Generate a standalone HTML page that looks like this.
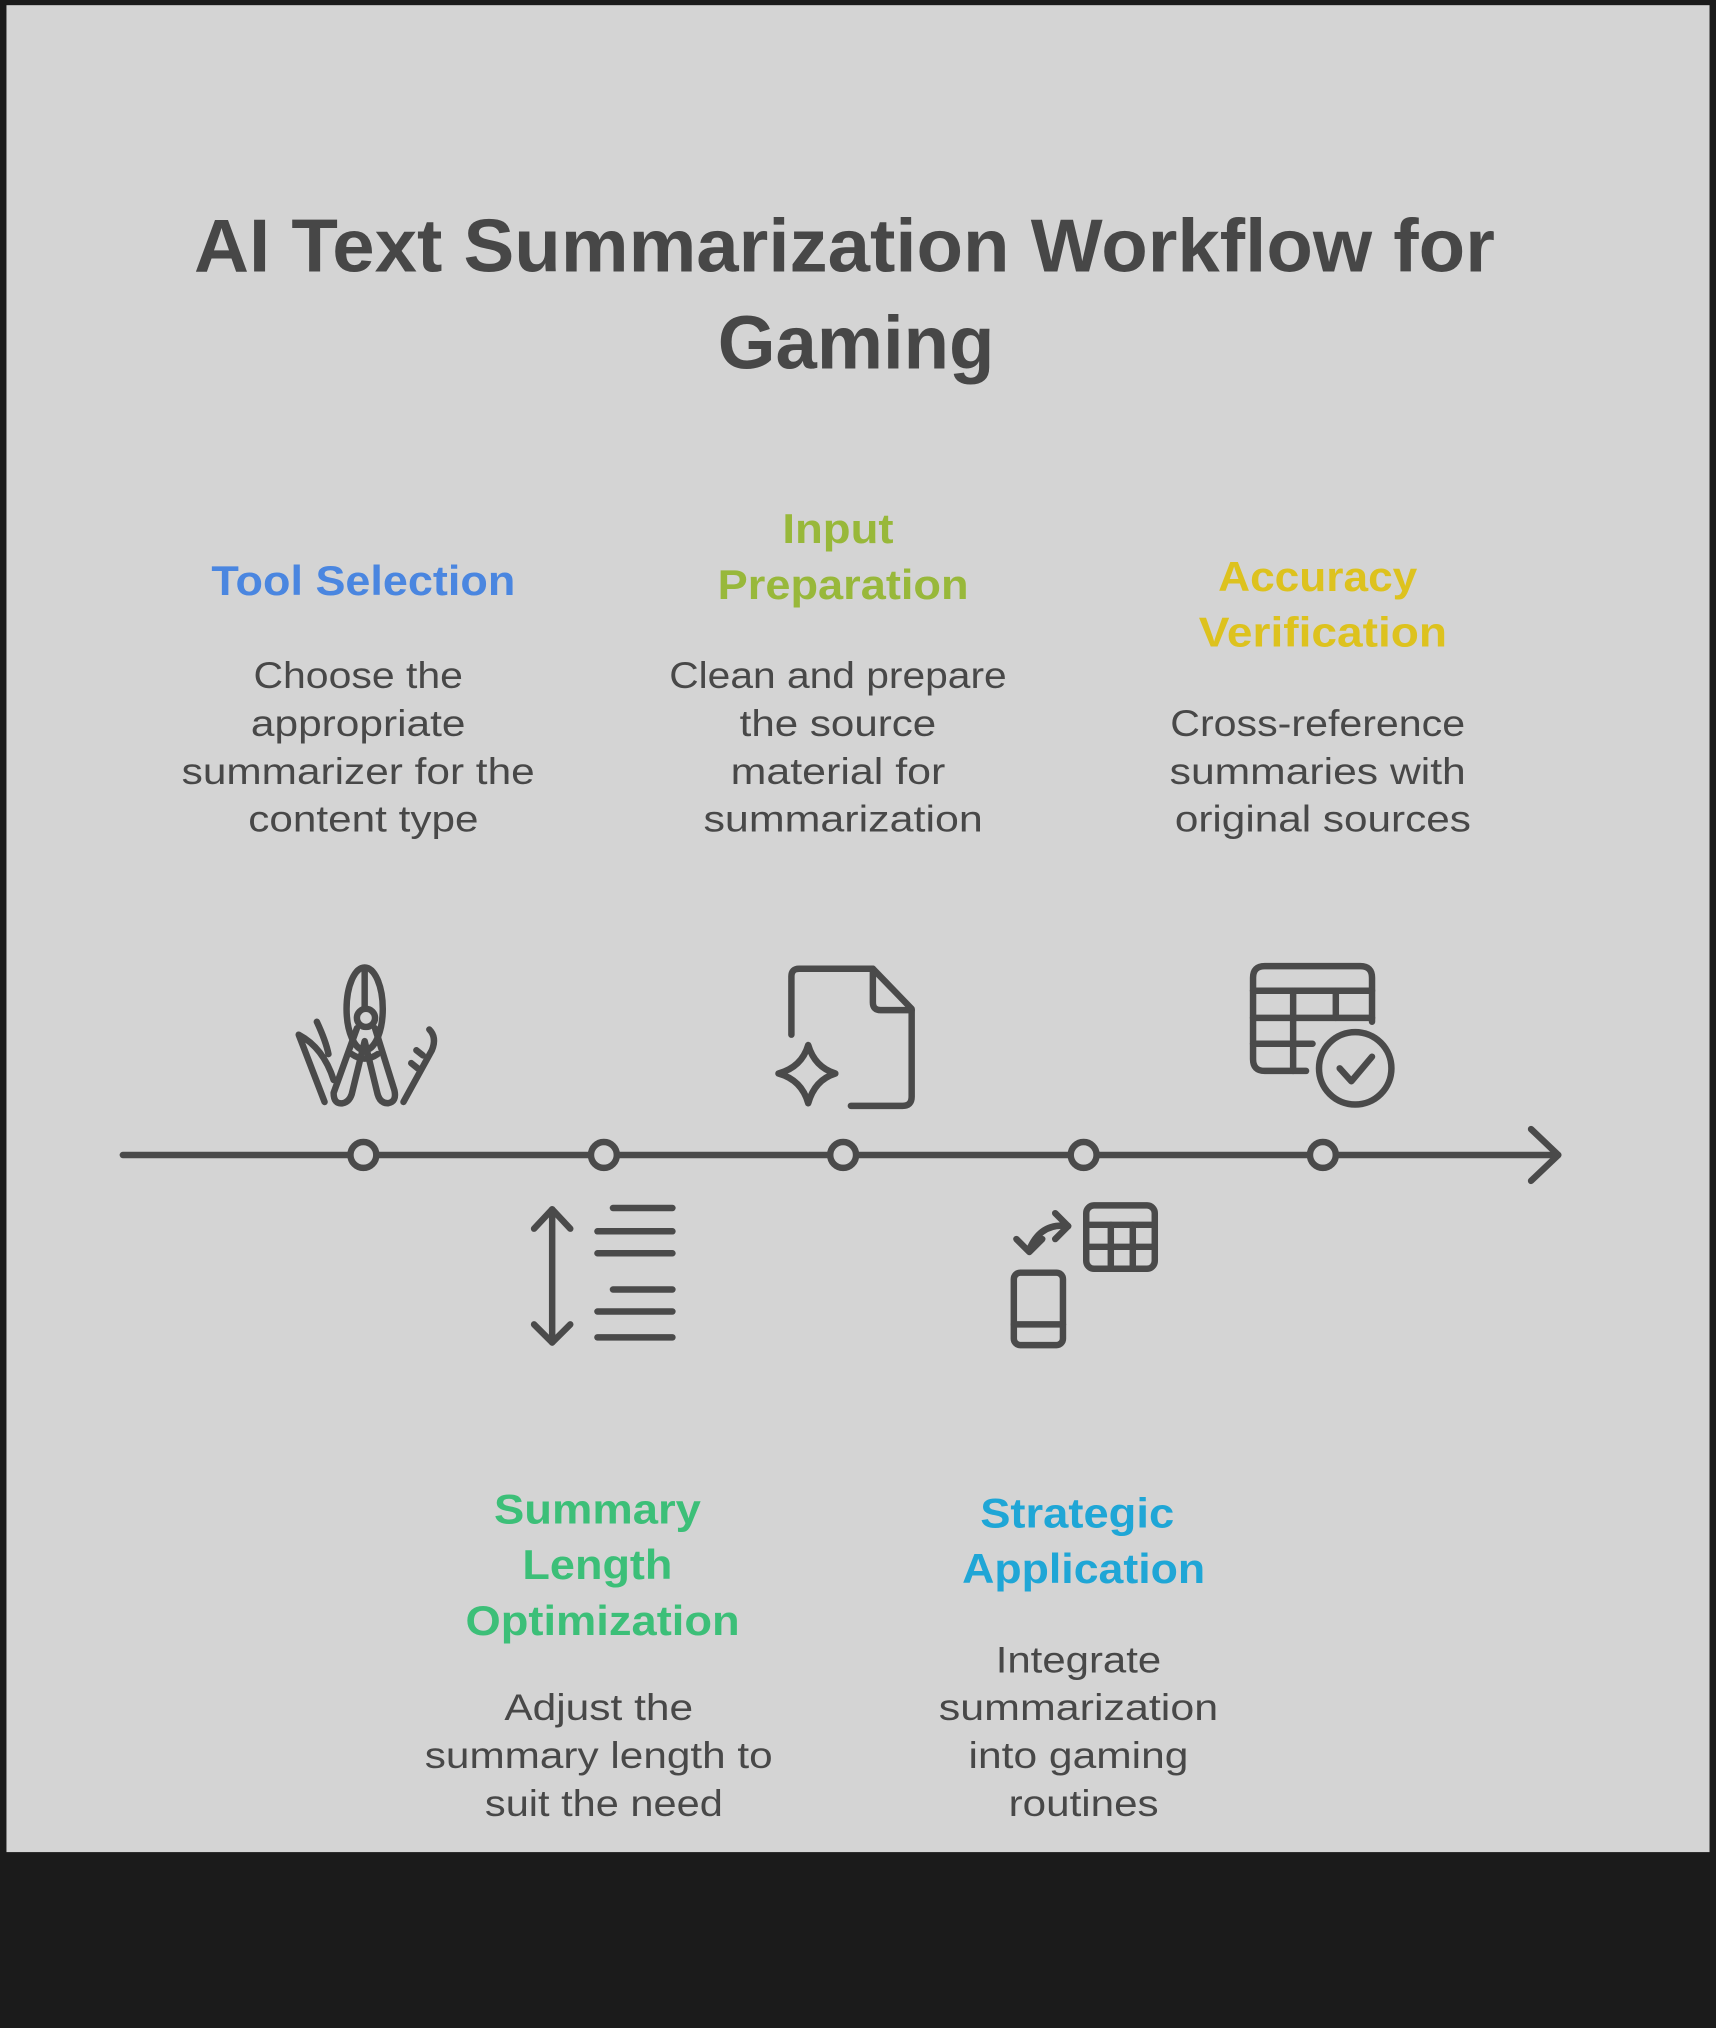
<!DOCTYPE html>
<html><head><meta charset="utf-8"><style>
html,body{margin:0;padding:0;background:#1b1b1b;}
svg{display:block;}
text{font-family:"Liberation Sans",sans-serif;}
</style></head><body>
<svg width="1716" height="2028" viewBox="0 0 1327 1568" preserveAspectRatio="none" xmlns="http://www.w3.org/2000/svg">
<rect x="0" y="0" width="1327" height="1568" fill="#1b1b1b"/>
<rect x="5" y="4" width="1317" height="1428" fill="#d4d4d4"/>
<g font-weight="bold" fill="#474747" font-size="58" text-anchor="middle">
<text x="653" y="210" textLength="1006" lengthAdjust="spacingAndGlyphs">AI Text Summarization Workflow for</text>
<text x="662" y="285" textLength="214" lengthAdjust="spacingAndGlyphs">Gaming</text>
</g>
<g font-weight="bold" font-size="32" text-anchor="middle">
<text x="281" y="460" fill="#4a86e0" textLength="235" lengthAdjust="spacingAndGlyphs">Tool Selection</text>
<text x="648" y="420" fill="#98b83a" textLength="86" lengthAdjust="spacingAndGlyphs">Input</text>
<text x="652" y="463" fill="#98b83a" textLength="194" lengthAdjust="spacingAndGlyphs">Preparation</text>
<text x="1019" y="457" fill="#ddc21e" textLength="154" lengthAdjust="spacingAndGlyphs">Accuracy</text>
<text x="1023" y="500" fill="#ddc21e" textLength="192" lengthAdjust="spacingAndGlyphs">Verification</text>
<text x="462" y="1178" fill="#3cbf78" textLength="160" lengthAdjust="spacingAndGlyphs">Summary</text>
<text x="462" y="1221" fill="#3cbf78" textLength="116" lengthAdjust="spacingAndGlyphs">Length</text>
<text x="466" y="1264" fill="#3cbf78" textLength="212" lengthAdjust="spacingAndGlyphs">Optimization</text>
<text x="833" y="1181" fill="#1fa6d6" textLength="150" lengthAdjust="spacingAndGlyphs">Strategic</text>
<text x="838" y="1224" fill="#1fa6d6" textLength="188" lengthAdjust="spacingAndGlyphs">Application</text>
</g>
<g font-size="29" fill="#484848" text-anchor="middle">
<text x="277" y="532" textLength="162" lengthAdjust="spacingAndGlyphs">Choose the</text>
<text x="277" y="569" textLength="166" lengthAdjust="spacingAndGlyphs">appropriate</text>
<text x="277" y="606" textLength="273" lengthAdjust="spacingAndGlyphs">summarizer for the</text>
<text x="281" y="643" textLength="178" lengthAdjust="spacingAndGlyphs">content type</text>
<text x="648" y="532" textLength="261" lengthAdjust="spacingAndGlyphs">Clean and prepare</text>
<text x="648" y="569" textLength="152" lengthAdjust="spacingAndGlyphs">the source</text>
<text x="648" y="606" textLength="166" lengthAdjust="spacingAndGlyphs">material for</text>
<text x="652" y="643" textLength="216" lengthAdjust="spacingAndGlyphs">summarization</text>
<text x="1019" y="569" textLength="228" lengthAdjust="spacingAndGlyphs">Cross-reference</text>
<text x="1019" y="606" textLength="229" lengthAdjust="spacingAndGlyphs">summaries with</text>
<text x="1023" y="643" textLength="229" lengthAdjust="spacingAndGlyphs">original sources</text>
<text x="463" y="1330" textLength="146" lengthAdjust="spacingAndGlyphs">Adjust the</text>
<text x="463" y="1367" textLength="269" lengthAdjust="spacingAndGlyphs">summary length to</text>
<text x="467" y="1404" textLength="184" lengthAdjust="spacingAndGlyphs">suit the need</text>
<text x="834" y="1293" textLength="128" lengthAdjust="spacingAndGlyphs">Integrate</text>
<text x="834" y="1330" textLength="216" lengthAdjust="spacingAndGlyphs">summarization</text>
<text x="834" y="1367" textLength="170" lengthAdjust="spacingAndGlyphs">into gaming</text>
<text x="838" y="1404" textLength="116" lengthAdjust="spacingAndGlyphs">routines</text>
</g>
<g stroke="#4a4a4a" stroke-width="5" fill="none" stroke-linecap="round" stroke-linejoin="round">
<!-- timeline -->
<line x1="95" y1="893" x2="1205" y2="893"/>
<polyline points="1184,873 1205,893 1184,913"/>
<g fill="#d4d4d4">
<circle cx="281" cy="893" r="10"/><circle cx="467" cy="893" r="10"/><circle cx="652" cy="893" r="10"/><circle cx="838" cy="893" r="10"/><circle cx="1023" cy="893" r="10"/>
</g>
<!-- compass -->
<ellipse cx="282" cy="780" rx="14" ry="32"/>
<circle cx="283" cy="787" r="7" fill="#d4d4d4"/>
<line x1="282" y1="750" x2="282" y2="780"/>
<path d="M276,795 L258,845 Q258,854 265,853 Q270,852 272,846 L282,805 L292,846 Q294,853 300,853 Q307,852 305,843 L290,795"/>
<path d="M272,815 Q282,822 292,815"/>
<path d="M231,800 L251,852 M231,800 Q250,810 258,835 M245,790 Q252,805 254,815"/>
<path d="M332,796 Q338,802 334,812 L312,852 M322,812 l5,4 M318,822 l5,4"/>
<!-- document -->
<path d="M612,800 L612,755 Q612,749 618,749 L675,749 L705,780 L705,848 Q705,855 698,855 L658,855"/>
<path d="M675,749 L675,775 Q675,781 681,781 L705,781"/>
<path d="M625,808 Q630,825 646,830 Q630,835 625,853 Q620,835 602,830 Q620,825 625,808 Z"/>
<!-- table check -->
<path d="M1010,828 L978,828 Q969,828 969,819 L969,756 Q969,747 978,747 L1052,747 Q1061,747 1061,756 L1061,790"/>
<line x1="969" y1="766" x2="1061" y2="766"/>
<line x1="969" y1="787" x2="1061" y2="787"/>
<line x1="969" y1="807" x2="1015" y2="807"/>
<line x1="1000" y1="766" x2="1000" y2="828"/>
<line x1="1033" y1="766" x2="1033" y2="787"/>
<circle cx="1048" cy="826" r="28"/>
<polyline points="1036,826 1045,836 1061,817"/>
<!-- lines icon -->
<line x1="427" y1="935" x2="427" y2="1038"/>
<polyline points="413,950 427,935 441,950"/>
<polyline points="413,1024 427,1038 441,1024"/>
<line x1="474" y1="934" x2="520" y2="934"/>
<line x1="462" y1="952" x2="520" y2="952"/>
<line x1="462" y1="969" x2="520" y2="969"/>
<line x1="474" y1="997" x2="520" y2="997"/>
<line x1="462" y1="1014" x2="520" y2="1014"/>
<line x1="462" y1="1034" x2="520" y2="1034"/>
<!-- phone / calc -->
<rect x="784" y="984" width="38" height="56" rx="5"/>
<line x1="784" y1="1024" x2="822" y2="1024"/>
<rect x="840" y="932" width="53" height="49" rx="6"/>
<line x1="840" y1="947" x2="893" y2="947"/>
<line x1="840" y1="964" x2="893" y2="964"/>
<line x1="859" y1="947" x2="859" y2="981"/>
<line x1="876" y1="947" x2="876" y2="981"/>
<path d="M826,948 Q805,945 796,966"/>
<polyline points="816,938 826,948 816,958"/>
<polyline points="786,958 796,968 806,958"/>
</g>
</svg>
</body></html>
